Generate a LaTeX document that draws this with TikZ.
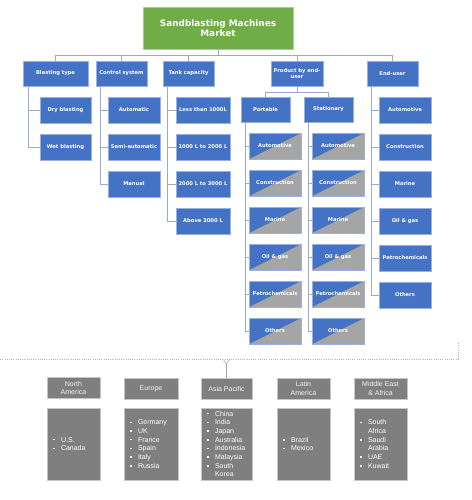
\documentclass[tikz,border=0pt]{standalone}
\usepackage{fontspec}
\setmainfont{DejaVu Sans}
\newfontfamily\regfont{Liberation Sans}
\definecolor{bblue}{HTML}{4472C4}
\definecolor{bgreen}{HTML}{70AD47}
\definecolor{bgray}{HTML}{A5A5A5}
\definecolor{rgray}{HTML}{7F7F7F}
\definecolor{lcol}{HTML}{97ABD0}
\newcommand{\bx}[7][box]{\node[#1, minimum width=#5pt, minimum height=#6pt] (#2) at (#3,#4) {#7};}
\newcommand{\bul}{\makebox[8pt][l]{\rule[1.6pt]{1.5pt}{1.5pt}}}
\newcommand{\nob}{\hspace*{8pt}}
\tikzset{
  box/.style={fill=bblue, draw=bblue!55!white, line width=0.4pt, text=white,
    font=\fontsize{5.2}{6}\selectfont\bfseries, align=center, inner sep=0pt},
  split/.style={box, fill=bgray, path picture={\fill[bblue] (path picture bounding box.south west) -- (path picture bounding box.north west) -- (path picture bounding box.north east) -- cycle;}},
  topbox/.style={box, fill=bgreen, draw=bgreen!60!white, font=\fontsize{8.9}{10.3}\selectfont\bfseries},
  conn/.style={draw=lcol, line width=0.9pt},
  dotline/.style={draw=gray!60, line width=0.7pt, dash pattern=on 0.8pt off 1.4pt},
  reghead/.style={fill=rgray, draw=gray!45, line width=0.4pt, text=gray!8, font=\regfont\fontsize{7}{8.5}\selectfont, align=center, inner sep=0pt},
  regbody/.style={fill=rgray, draw=gray!45, line width=0.4pt, text=white, font=\regfont\fontsize{7}{8.7}\selectfont, inner xsep=0pt, inner ysep=0pt, align=left}
}
\begin{document}
\begin{tikzpicture}[x=1pt, y=-1pt]
\useasboundingbox (0,0) rectangle (471,500);
\fill[white] (0,0) rectangle (471,500);
% top
\bx[topbox]{top}{218}{28}{150}{42}{Sandblasting Machines\\Market}
% level 1
\bx{bt}{55.5}{73.5}{65}{25}{Blasting type}
\bx{cs}{121.5}{73.5}{51}{25}{Control system}
\bx{tc}{188.5}{73.5}{51}{25}{Tank capacity}
\bx{pe}{297}{73.5}{52}{25}{Product by end-\\user}
\bx{eu}{392.5}{73.5}{51}{25}{End-user}
% blasting type
\bx{dry}{65.5}{110}{51}{26}{Dry blasting}
\bx{wet}{65.5}{147}{51}{26}{Wet blasting}
% control system
\bx{aut}{134}{110}{52}{26}{Automatic}
\bx{sem}{134}{147}{52}{26}{Semi-automatic}
\bx{man}{134}{184}{52}{26}{Manual}
% tank capacity
\bx{t1}{203}{110}{54}{26}{Less than 1000L}
\bx{t2}{203}{147}{54}{26}{1000 L to 2000 L}
\bx{t3}{203}{184}{54}{26}{2000 L to 3000 L}
\bx{t4}{203}{221}{54}{26}{Above 3000 L}
% product by end-user
\bx{po}{265.5}{109.5}{49}{25}{Portable}
\bx{st}{328.5}{109.5}{49}{25}{Stationary}
\bx[split]{p1}{275}{146}{52}{26}{Automotive}
\bx[split]{p2}{275}{183}{52}{26}{Construction}
\bx[split]{p3}{275}{220}{52}{26}{Marine}
\bx[split]{p4}{275}{257}{52}{26}{Oil \& gas}
\bx[split]{p5}{275}{294}{52}{26}{Petrochemicals}
\bx[split]{p6}{275}{331}{52}{26}{Others}
\bx[split]{s1}{338}{146}{52}{26}{Automotive}
\bx[split]{s2}{338}{183}{52}{26}{Construction}
\bx[split]{s3}{338}{220}{52}{26}{Marine}
\bx[split]{s4}{338}{257}{52}{26}{Oil \& gas}
\bx[split]{s5}{338}{294}{52}{26}{Petrochemicals}
\bx[split]{s6}{338}{331}{52}{26}{Others}
% end-user
\bx{e1}{405}{110}{52}{26}{Automotive}
\bx{e2}{405}{147}{52}{26}{Construction}
\bx{e3}{405}{184}{52}{26}{Marine}
\bx{e4}{405}{221}{52}{26}{Oil \& gas}
\bx{e5}{405}{258}{52}{26}{Petrochemicals}
\bx{e6}{405}{295}{52}{26}{Others}
% connectors
\draw[conn] (top.south) -- ++(0,6) coordinate (hb);
\draw[conn] (bt.north |- hb) -- (eu.north |- hb);
\foreach \n in {bt,cs,tc,pe,eu} \draw[conn] (\n.north) -- (\n.north |- hb);
\foreach \c in {dry,wet} \draw[conn] (bt.south west) ++(6,0) |- (\c.west);
\foreach \c in {aut,sem,man} \draw[conn] (cs.south west) ++(5,0) |- (\c.west);
\foreach \c in {t1,t2,t3,t4} \draw[conn] (tc.south west) ++(5,0) |- (\c.west);
\draw[conn] (pe.south) -- ++(0,6) coordinate (hb2);
\draw[conn] (po.north |- hb2) -- (st.north |- hb2);
\draw[conn] (po.north) -- (po.north |- hb2);
\draw[conn] (st.north) -- (st.north |- hb2);
\foreach \c in {p1,p2,p3,p4,p5,p6} \draw[conn] (po.south west) ++(5,0) |- (\c.west);
\foreach \c in {s1,s2,s3,s4,s5,s6} \draw[conn] (st.south west) ++(5,0) |- (\c.west);
\foreach \c in {e1,e2,e3,e4,e5,e6} \draw[conn] (eu.south west) ++(5,0) |- (\c.west);
% regions
\bx[reghead]{nah}{73.5}{388}{53}{21}{North\\America}
\bx[reghead]{euh}{151}{388.5}{54}{21}{Europe}
\bx[reghead]{aph}{226.5}{388.5}{51}{21}{Asia Pacific}
\bx[reghead]{lah}{303.5}{388.5}{53}{21}{Latin\\America}
\bx[reghead]{meh}{380.5}{388.5}{53}{21}{Middle East\\\& Africa}
\node[regbody, minimum width=53pt, minimum height=72pt, text width=41pt] (nab) at (73.5,444) {\bul U.S.\\\bul Canada};
\node[regbody, minimum width=54pt, minimum height=72pt, text width=42pt] (eub) at (151,444) {\bul Germany\\\bul UK\\\bul France\\\bul Spain\\\bul Italy\\\bul Russia};
\node[regbody, minimum width=51pt, minimum height=72pt, text width=39pt] (apb) at (226.5,444) {\bul China\\\bul India\\\bul Japan\\\bul Australia\\\bul Indonesia\\\bul Malaysia\\\bul South\\\nob Korea};
\node[regbody, minimum width=53pt, minimum height=72pt, text width=41pt] (lab) at (303.5,444) {\bul Brazil\\\bul Mexico};
\node[regbody, minimum width=53pt, minimum height=72pt, text width=41pt] (meb) at (380.5,444) {\bul South\\\nob Africa\\\bul Saudi\\\nob Arabia\\\bul UAE\\\bul Kuwait};
% dotted bracket
\coordinate (dr) at (458,343);
\coordinate (dl) at (0,359);
\draw[dotline] (dr) |- (dl);
\draw[draw=gray!70, line width=0.5pt] (aph.north) -- ++(0,-14) coordinate (yt);
\draw[draw=gray!70, line width=0.5pt] (yt) -- ++(-3,-4) (yt) -- ++(3,-4);
\end{tikzpicture}
\end{document}
